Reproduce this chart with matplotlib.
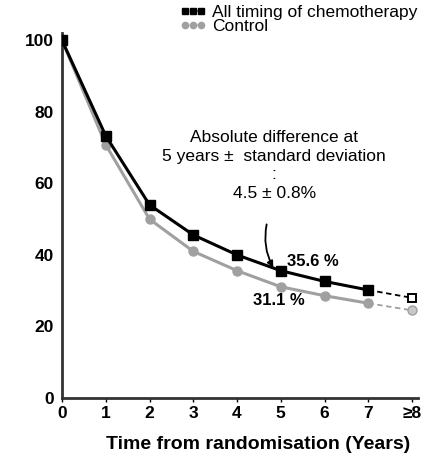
import matplotlib.pyplot as plt
from matplotlib.lines import Line2D

plt.rcParams['font.family'] = ['Liberation Sans', 'DejaVu Sans']

years = [0, 1, 2, 3, 4, 5, 6, 7, 8]
tick_labels = ["0", "1", "2", "3", "4", "5", "6", "7", "≥8"]
chemo = [100, 73.3, 54, 45.6, 40, 35.6, 32.6, 30.2, 28]
control = [100, 70.8, 50, 41, 35.6, 31.1, 28.6, 26.5, 24.5]

fig = plt.figure(figsize=(4.22, 4.54), dpi=100)
ax = fig.add_axes([0.1469, 0.1233, 0.843, 0.8037])

grey = "#a0a0a0"
# solid part up to year 7, dashed to >=8
ax.plot(years[:8], control[:8], color=grey, lw=2.2, marker='o', ms=6.5,
        mfc=grey, mec=grey, zorder=2)
ax.plot(years[7:], control[7:], color=grey, lw=1.3, ls=(0, (3, 2)),
        marker='o', ms=6.5, markevery=[1], mfc="#c8c8c8", mec=grey, zorder=1)
ax.plot(years[:8], chemo[:8], color="black", lw=2.2, marker='s', ms=6.5,
        mfc="black", mec="black", zorder=3)
ax.plot(years[7:], chemo[7:], color="black", lw=1.3, ls=(0, (3, 2)),
        marker='s', ms=5.5, markevery=[1], mfc="white", mec="black", mew=1.4, zorder=1)

ax.set_xlim(0, 8.13)
ax.set_ylim(0, 102)
ax.set_xticks(years)
ax.set_xticklabels(tick_labels, fontweight='bold', fontsize=12.5)
ax.set_yticks([0, 20, 40, 60, 80, 100])
ax.set_yticklabels(["0", "20", "40", "60", "80", "100"], fontweight='bold', fontsize=12.5)
ax.tick_params(axis='y', length=0, pad=6)
ax.tick_params(axis='x', length=3, width=1, direction='out', pad=3)
ax.set_xlabel("Time from randomisation (Years)", fontweight='bold', fontsize=14)
ax.xaxis.set_label_coords(0.55, -0.105)
for s in ["top", "right"]:
    ax.spines[s].set_visible(False)
for s in ["left", "bottom"]:
    ax.spines[s].set_linewidth(2)
    ax.spines[s].set_color("#333333")

ax.text(4.85, 75, "Absolute difference at\n5 years ±  standard deviation\n:\n4.5 ± 0.8%",
        ha='center', va='top', fontsize=12.5, linespacing=1.32)
ax.annotate("", xy=(4.86, 35.8), xytext=(4.69, 49.3),
            arrowprops=dict(arrowstyle='-|>', color='black', lw=1.3,
                            connectionstyle='arc3,rad=0.2', mutation_scale=9))
ax.text(5.74, 38.2, "35.6 %", fontweight='bold', fontsize=12, ha='center', va='center')
ax.text(4.96, 27.4, "31.1 %", fontweight='bold', fontsize=12, ha='center', va='center')

handles = [
    Line2D([0], [0], color='black', lw=1.5, ls=(0, (2, 1)), marker='s', ms=4),
    Line2D([0], [0], color=grey, lw=1.5, ls=(0, (2, 1)), marker='o', ms=4.5),
]
fig.legend(handles, ["All timing of chemotherapy", "Control"], loc='upper left',
           bbox_to_anchor=(0.41, 1.005), frameon=False, fontsize=12.5, numpoints=3,
           handlelength=1.5, handletextpad=0.35, labelspacing=-0.05, borderaxespad=0)

fig.savefig("out.png", dpi=100)
